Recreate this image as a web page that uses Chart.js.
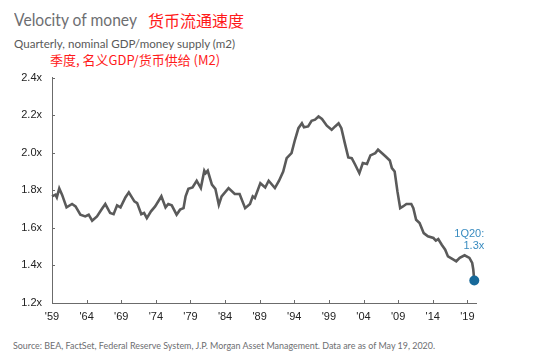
<!DOCTYPE html>
<html>
<head>
<meta charset="utf-8">
<script src="https://cdn.jsdelivr.net/npm/chart.js@4.4.0/dist/chart.umd.min.js"></script>
<style>
  html, body { margin: 0; padding: 0; background: #fff; }
  body { width: 550px; height: 363px; position: relative; overflow: hidden; font-family: Lato, "Open Sans", sans-serif; }
  .txt { position: absolute; white-space: nowrap; transform-origin: left center; line-height: 1; }
  #title { left: 14px; top: 11px; font-size: 17px; color: #6d6e71; }
  #titleCn { left: 148px; top: 12px; font-size: 16px; color: #ff1a1a; font-family: "Noto Sans CJK SC", sans-serif; }
  #subtitle { left: 14px; top: 38px; font-size: 12px; color: #595959; }
  #subtitleCn { left: 50px; top: 53px; font-size: 13px; color: #ff1a1a; font-family: "Noto Sans CJK SC", sans-serif; }
  #source { left: 13px; top: 341px; font-size: 9px; color: #6d6e71; }
  #chartBox { position: absolute; left: 0; top: 61px; width: 550px; height: 269px; }
</style>
</head>
<body>
<div class="txt" id="title" data-w="123">Velocity of money</div>
<div class="txt" id="titleCn" data-w="96">货币流通速度</div>
<div class="txt" id="subtitle" data-w="221">Quarterly, nominal GDP/money supply (m2)</div>
<div class="txt" id="subtitleCn" data-w="170">季度, 名义GDP/货币供给 (M2)</div>
<div class="txt" id="source" data-w="422">Source: BEA, FactSet, Federal Reserve System, J.P. Morgan Asset Management. Data are as of May 19, 2020.</div>
<div id="chartBox"><canvas id="velocityChart" width="550" height="269"></canvas></div>

<script>
  // ================== DATA ==================
  const YEARS = [
    1959.0, 1959.5, 1959.7, 1960.05, 1960.45, 1961.1, 1961.9, 1962.4, 1963.1, 1963.8,
    1964.3, 1964.8, 1965.5, 1966.2, 1966.7, 1967.4, 1967.9, 1968.4, 1968.9, 1969.6,
    1970.1, 1970.9, 1971.3, 1971.9, 1972.3, 1972.7, 1973.3, 1973.9, 1974.8, 1975.4,
    1975.8, 1976.3, 1977.0, 1977.5, 1978.0, 1978.3, 1978.7, 1979.3, 1979.9, 1980.5,
    1981.0, 1981.2, 1981.5, 1982.1, 1982.6, 1983.1, 1983.5, 1984.5, 1985.4, 1986.1,
    1986.9, 1987.6, 1988.0, 1988.3, 1989.1, 1989.8, 1990.3, 1991.2, 1991.8, 1992.4,
    1992.9, 1993.6, 1994.1, 1994.6, 1995.1, 1995.4, 1996.0, 1996.5, 1997.0, 1997.5,
    1998.0, 1998.7, 1999.4, 1999.9, 2000.4, 2000.8, 2001.3, 2001.8, 2002.3, 2002.8,
    2003.4, 2003.9, 2004.5, 2005.0, 2005.7, 2006.1, 2006.6, 2007.2, 2007.8, 2008.1,
    2008.5, 2008.9, 2009.3, 2009.7, 2010.2, 2010.9, 2011.2, 2011.6, 2012.1, 2012.7,
    2013.3, 2014.1, 2014.45, 2014.8, 2015.3, 2015.8, 2016.2, 2017.0, 2017.4, 2017.9,
    2018.6, 2019.3, 2019.7, 2019.85, 2020.0
  ];
  const VELOCITY = [
    1.768, 1.777, 1.762, 1.810, 1.777, 1.709, 1.727, 1.714, 1.670, 1.661,
    1.670, 1.638, 1.661, 1.700, 1.727, 1.679, 1.673, 1.720, 1.709, 1.762,
    1.789, 1.741, 1.732, 1.673, 1.680, 1.652, 1.688, 1.714, 1.768, 1.709,
    1.727, 1.720, 1.670, 1.697, 1.705, 1.768, 1.808, 1.815, 1.851, 1.812,
    1.904, 1.891, 1.904, 1.830, 1.808, 1.723, 1.768, 1.812, 1.780, 1.780,
    1.705, 1.727, 1.768, 1.759, 1.838, 1.815, 1.851, 1.812, 1.851, 1.900,
    1.971, 1.998, 2.069, 2.131, 2.157, 2.135, 2.140, 2.170, 2.176, 2.193,
    2.180, 2.144, 2.122, 2.140, 2.157, 2.131, 2.051, 1.975, 1.971, 1.936,
    1.891, 1.945, 1.940, 1.986, 1.998, 2.016, 2.000, 1.980, 1.959, 1.918,
    1.900, 1.794, 1.705, 1.714, 1.727, 1.727, 1.705, 1.643, 1.626, 1.572,
    1.555, 1.546, 1.532, 1.540, 1.510, 1.484, 1.448, 1.431, 1.422, 1.440,
    1.454, 1.440, 1.413, 1.380, 1.320
  ];
  const TICK_YEARS = [1959, 1964, 1969, 1974, 1979, 1984, 1989, 1994, 1999, 2004, 2009, 2014, 2019];
  const Y_TICKS = [1.2, 1.4, 1.6, 1.8, 2.0, 2.2, 2.4];
  const LAST_LABEL = ["1Q20:", "1.3x"];

  const LINE_COLOR = "#5a5a5a";
  const AXIS_COLOR = "#6b6b6b";
  const DOT_COLOR = "#17699a";
  const NOTE_COLOR = "#3a8cc0";
  const TICK_FONT = { family: "'Liberation Sans', Arial, sans-serif", size: 11 };

  // squeeze header/footer text to the widths seen in the picture
  document.querySelectorAll(".txt").forEach(function (el) {
    const target = parseFloat(el.dataset.w);
    const actual = el.scrollWidth;
    if (target && actual) el.style.transform = "scaleX(" + (target / actual).toFixed(3) + ")";
  });

  // ================== PLUGINS ==================
  // small tick marks pointing into the plot area
  const innerTicks = {
    id: "innerTicks",
    afterDraw(chart) {
      const { ctx, chartArea, scales } = chart;
      ctx.save();
      ctx.strokeStyle = AXIS_COLOR;
      ctx.lineWidth = 1;
      scales.x.ticks.forEach((t) => {
        const px = Math.round(scales.x.getPixelForValue(t.value)) + 0.5;
        ctx.beginPath();
        ctx.moveTo(px, chartArea.bottom);
        ctx.lineTo(px, chartArea.bottom - 3);
        ctx.stroke();
      });
      scales.y.ticks.forEach((t) => {
        const py = Math.round(scales.y.getPixelForValue(t.value)) + 0.5;
        ctx.beginPath();
        ctx.moveTo(chartArea.left, py);
        ctx.lineTo(chartArea.left + 3, py);
        ctx.stroke();
      });
      ctx.restore();
    },
  };

  // "1Q20: 1.3x" note above the last point
  const lastNote = {
    id: "lastNote",
    afterDatasetsDraw(chart) {
      const meta = chart.getDatasetMeta(0);
      const last = meta.data[meta.data.length - 1];
      if (!last) return;
      const { ctx } = chart;
      ctx.save();
      ctx.fillStyle = NOTE_COLOR;
      ctx.font = "11px 'Liberation Sans', Arial, sans-serif";
      ctx.textAlign = "right";
      ctx.textBaseline = "middle";
      ctx.fillText(LAST_LABEL[0], last.x + 10, last.y - 46);
      ctx.fillText(LAST_LABEL[1], last.x + 10, last.y - 34);
      ctx.restore();
    },
  };

  // ================== CHART ==================
  const points = YEARS.map((yr, i) => ({ x: yr, y: VELOCITY[i] }));
  const lastIdx = points.length - 1;

  new Chart(document.getElementById("velocityChart"), {
    type: "line",
    data: {
      datasets: [
        {
          data: points,
          borderColor: LINE_COLOR,
          borderWidth: 2.6,
          tension: 0,
          fill: false,
          clip: false,
          pointRadius: (c) => (c.dataIndex === lastIdx ? 5 : 0),
          pointBackgroundColor: DOT_COLOR,
          pointBorderColor: DOT_COLOR,
          pointBorderWidth: 0,
        },
      ],
    },
    options: {
      responsive: false,
      animation: false,
      layout: { padding: { top: 5, right: 74, left: 0, bottom: 0 } },
      plugins: { legend: { display: false }, tooltip: { enabled: false } },
      scales: {
        x: {
          type: "linear",
          min: 1959,
          max: 2020.25,
          grid: { display: true, drawOnChartArea: false, drawTicks: false },
          border: { display: true, color: AXIS_COLOR, width: 1 },
          afterBuildTicks: (scale) => {
            scale.ticks = TICK_YEARS.map((v) => ({ value: v }));
          },
          afterFit: (scale) => {
            scale.height = 27;
          },
          ticks: {
            padding: 7,
            color: "#222",
            font: TICK_FONT,
            maxRotation: 0,
            autoSkip: false,
            callback: (v) => "'" + String(v).slice(2),
          },
        },
        y: {
          min: 1.2,
          max: 2.4,
          grid: { display: true, drawOnChartArea: false, drawTicks: false },
          border: { display: true, color: AXIS_COLOR, width: 1 },
          afterBuildTicks: (scale) => {
            scale.ticks = Y_TICKS.map((v) => ({ value: v }));
          },
          afterFit: (scale) => {
            scale.width = 52;
          },
          ticks: {
            padding: 10,
            color: "#222",
            font: TICK_FONT,
            callback: (v) => Number(v).toFixed(1) + "x",
          },
        },
      },
    },
    plugins: [innerTicks, lastNote],
  });
</script>
</body>
</html>
